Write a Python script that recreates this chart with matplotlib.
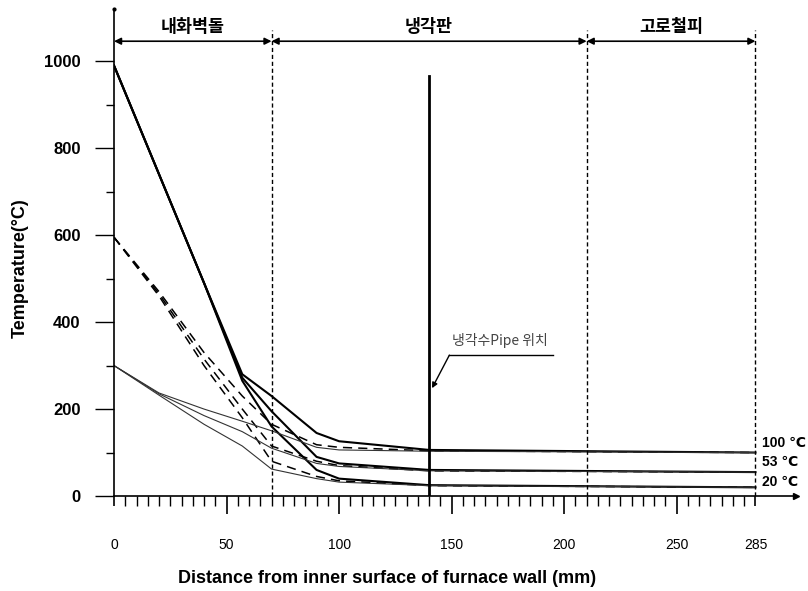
import matplotlib.pyplot as plt
import numpy as np

plt.rcParams['font.family'] = ['Liberation Sans', 'Noto Sans CJK KR', 'DejaVu Sans']

# distance from inner surface (mm) where the curves are read
x_pts = [0, 20, 40, 57, 70, 90, 100, 140, 285]

# hot face 1000 C (solid)
t1000_100 = [990, 740, 490, 280, 230, 145, 126, 106, 100]
t1000_53 = [990, 740, 490, 272, 195, 90, 75, 60, 55]
t1000_20 = [990, 740, 490, 265, 160, 60, 40, 25, 20]
# hot face 600 C (dashed)
t600_100 = [595, 470, 330, 230, 165, 118, 112, 104, 100]
t600_53 = [595, 465, 315, 200, 115, 80, 70, 58, 55]
t600_20 = [595, 460, 300, 180, 80, 45, 35, 24, 20]
# hot face 300 C (thin)
t300_100 = [300, 237, 200, 172, 150, 112, 106, 103, 100]
t300_53 = [300, 235, 185, 148, 110, 75, 68, 58, 55]
t300_20 = [300, 232, 165, 115, 62, 40, 32, 24, 20]

zones = ['내화벽돌', '냉각판', '고로철피']
zone_edges = [0, 70, 210, 285]
pipe_x = 140
end_labels = ['100 ℃', '53 ℃', '20 ℃']
end_label_y = [122, 78, 32]

fig = plt.figure(figsize=(8.08, 5.91), dpi=100)
ax = fig.add_axes([0.1411, 0.1607, 0.844, 0.824])
ax.set_xlim(0, 303)
ax.set_ylim(0, 1120)

for t in [t1000_100, t1000_53, t1000_20]:
    ax.plot(x_pts, t, color='black', lw=1.5)
for t in [t600_100, t600_53, t600_20]:
    ax.plot(x_pts, t, color='black', lw=1.1, dashes=(6, 4))
for t in [t300_100, t300_53, t300_20]:
    ax.plot(x_pts, t, color='#333333', lw=0.8)

# zone boundaries
for xe in zone_edges[1:]:
    ax.plot([xe, xe], [0, 1072], color='black', lw=1.0, dashes=(3, 2))
ax.plot([pipe_x, pipe_x], [0, 965], color='black', lw=2.0)

# zone arrows and names
for i, name in enumerate(zones):
    x0, x1 = zone_edges[i], zone_edges[i + 1]
    ax.annotate('', xy=(x1, 1046), xytext=(x0, 1046),
                arrowprops=dict(arrowstyle='<|-|>', color='black', lw=1.2,
                                mutation_scale=10, shrinkA=0, shrinkB=0))
    ax.text((x0 + x1) / 2, 1078, name, ha='center', va='center', fontsize=12.5,
            fontweight='bold', family=['Noto Sans CJK KR', 'DejaVu Sans'])

# cooling pipe note
ax.text(150, 340, '냉각수Pipe 위치', fontsize=10, color='#444444',
        family=['Noto Sans CJK KR', 'DejaVu Sans'], va='bottom')
ax.plot([149, 195], [324, 324], color='black', lw=1.0)
ax.annotate('', xy=(141.3, 248), xytext=(149, 324),
            arrowprops=dict(arrowstyle='-|>', color='black', lw=1.0,
                            mutation_scale=8, shrinkA=0, shrinkB=0))

for lab, yy in zip(end_labels, end_label_y):
    ax.text(288, yy, lab, fontsize=10, fontweight='bold', va='center', ha='left',
            family=['Liberation Sans', 'DejaVu Sans'])

# axes
for s in ['top', 'right']:
    ax.spines[s].set_visible(False)
ax.spines['left'].set_linewidth(1.2)
ax.spines['bottom'].set_linewidth(1.2)
ax.plot(1, 0, '>', color='black', ms=4, transform=ax.transAxes, clip_on=False)
ax.plot(0, 1, '.', color='black', ms=4, transform=ax.transAxes, clip_on=False)

ax.set_yticks([0, 200, 400, 600, 800, 1000])
ax.set_yticks([100, 300, 500, 700, 900], minor=True)
ax.tick_params(axis='y', which='major', direction='out', length=14, width=1, pad=10,
               labelsize=12)
ax.tick_params(axis='y', which='minor', direction='out', length=6, width=1)
for lab in ax.get_yticklabels():
    lab.set_fontweight('bold')

ax.set_xticks([0, 50, 100, 150, 200, 250, 285])
ax.set_xticks(np.arange(0, 286, 5), minor=True)
ax.tick_params(axis='x', which='major', direction='out', length=13, width=1.2, pad=17,
               labelsize=10)
ax.tick_params(axis='x', which='minor', direction='out', length=7, width=1)
ticks = ax.xaxis.get_major_ticks()
ticks[0].tick1line.set_markersize(7)
ticks[-1].tick1line.set_markersize(7)

ax.set_ylabel('Temperature(°C)', fontsize=13, fontweight='bold')
ax.yaxis.set_label_coords(-0.125, 0.468)
ax.set_xlabel('Distance from inner surface of furnace wall (mm)', fontsize=13,
              fontweight='bold')
ax.xaxis.set_label_coords(0.40, -0.152)

fig.savefig('out.png', dpi=100)
